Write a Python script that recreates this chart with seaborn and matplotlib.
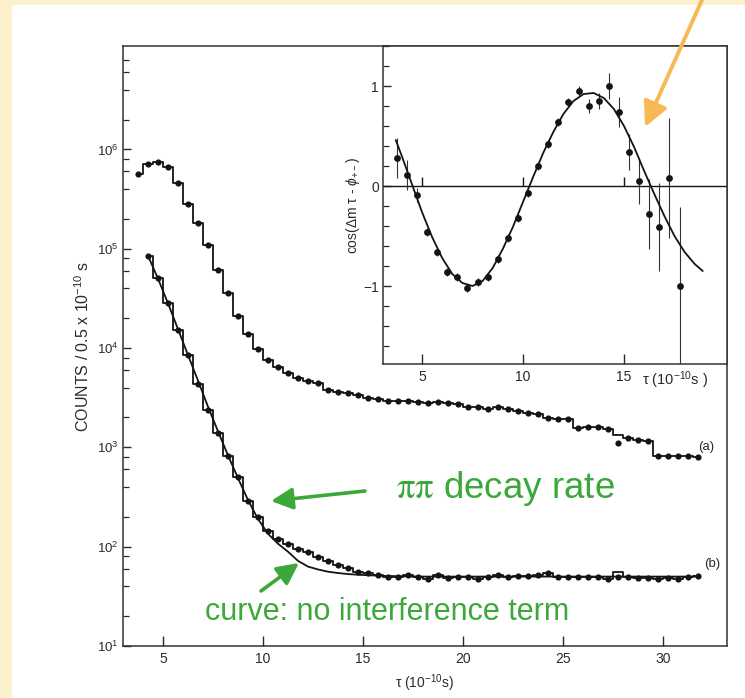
import numpy as np
import matplotlib
matplotlib.use('Agg')
import matplotlib.pyplot as plt
from matplotlib.ticker import FixedLocator, LogLocator, MultipleLocator, NullFormatter
from matplotlib.patches import Rectangle
import seaborn as sns

# bin centres of the 0.5e-10 s bins
tau_a = np.arange(3.75, 32.0, 0.5)
tau_b = np.arange(4.25, 32.0, 0.5)

# (a) counts per bin
counts_a = [570000, 720000, 740000, 670000, 460000, 280000, 180000, 110000, 61000, 36000,
            21000, 14000, 9800, 7600, 6500, 5600, 5000, 4700, 4400, 3780,
            3590, 3510, 3370, 3170, 3050, 2950, 2950, 2930, 2860, 2780,
            2880, 2780, 2740, 2570, 2540, 2420, 2540, 2420, 2310, 2240,
            2150, 1960, 1920, 1920, 1580, 1620, 1590, 1530, 1330, 1240,
            1190, 1170, 820, 820, 820, 820, 795]
# one (a) point sits below its histogram bin
a_outlier_tau = [27.75]
a_outlier_count = [1110]

# (b) counts per bin
counts_b = [85000, 50500, 28200, 15200, 8500, 4370, 2400, 1380, 813, 500,
            288, 200, 145, 120, 107, 95, 89, 79, 71, 65,
            61, 56, 54, 52, 49, 49, 52, 50, 47, 52,
            48, 50, 50, 47, 50, 52, 50, 51, 51, 52,
            54, 50, 50, 50, 50, 49, 47, 50, 49, 48,
            48, 47, 48, 47, 49, 51]
# one (b) histogram bin drawn above its point
b_bump_tau = [27.75]
b_bump_count = [55]

# curve without interference term
curve_tau = [4.25, 4.75, 5.25, 5.75, 6.25, 6.75, 7.25, 7.75, 8.25, 8.75, 9.25, 9.75,
             10.25, 10.75, 11.25, 11.75, 12.25, 12.75, 13.25, 13.75, 14.25, 14.75,
             15.25, 16.0, 18.0, 22.0, 26.0, 31.75]
curve_counts = [85000, 50000, 28200, 15500, 8500, 4700, 2570, 1450, 830, 490, 295, 190,
                135, 107, 89, 72, 63, 59, 56, 54.3, 53, 52.2,
                51.6, 50.8, 50, 50, 50, 50]

# inset: interference term
inset_tau = np.arange(3.75, 18.0, 0.5)
inset_cos = [0.28, 0.11, -0.09, -0.46, -0.66, -0.86, -0.91, -1.02, -0.96, -0.91,
             -0.73, -0.52, -0.32, -0.07, 0.20, 0.42, 0.64, 0.84, 0.95, 0.80,
             0.85, 1.00, 0.74, 0.34, 0.05, -0.28, -0.41, 0.08, -1.00]
inset_err = [0.20, 0.15, 0.07, 0.04, 0.04, 0.04, 0.04, 0.04, 0.04, 0.04,
             0.04, 0.04, 0.04, 0.04, 0.04, 0.04, 0.04, 0.04, 0.05, 0.07,
             0.08, 0.13, 0.15, 0.18, 0.23, 0.35, 0.44, 0.60, 0.79]
fit_tau = [3.7, 4.0, 4.5, 5.0, 5.5, 6.0, 6.5, 7.0, 7.5, 8.0, 8.5, 9.0, 9.5, 10.0, 10.5, 11.0,
           11.5, 12.0, 12.5, 13.0, 13.5, 14.0, 14.5, 15.0, 15.5, 16.0, 16.5, 17.0, 17.5,
           18.0, 18.5, 18.9]
fit_cos = [0.46, 0.30, 0.02, -0.26, -0.51, -0.72, -0.88, -0.97, -1.00, -0.95, -0.82, -0.63,
           -0.41, -0.16, 0.09, 0.33, 0.54, 0.72, 0.85, 0.92, 0.93, 0.88, 0.77, 0.60, 0.39,
           0.15, -0.08, -0.30, -0.50, -0.66, -0.78, -0.85]

main_xticks = [5, 10, 15, 20, 25, 30]
main_yticks = [1e1, 1e2, 1e3, 1e4, 1e5, 1e6]
inset_xticks = [5, 10, 15]
inset_yticks = [-1, 0, 1]

sns.set_style('ticks')
plt.rcParams['font.family'] = ['Liberation Sans', 'DejaVu Sans']
plt.rcParams['mathtext.fontset'] = 'custom'
plt.rcParams['mathtext.rm'] = 'Liberation Sans'
plt.rcParams['mathtext.it'] = 'Liberation Sans:italic'

ink = '#141414'
tick_col = '#2a2a2a'
green = '#3ca83a'
orange = '#f6b955'
W, H = 745, 698

fig = plt.figure(figsize=(W / 100, H / 100), dpi=100, facecolor='#fdf0cc')
fig.add_artist(Rectangle((12 / W, 0), 1, 1 - 5 / H, transform=fig.transFigure,
                         facecolor='white', edgecolor='none', zorder=-5))

# ---- main panel ----
ax = fig.add_axes([123 / W, 1 - 646 / H, 604 / W, 600 / H])
ax.set_yscale('log')

hist_a = list(counts_a)
hist_b = list(counts_b)
for t, c in zip(b_bump_tau, b_bump_count):
    hist_b[list(tau_b).index(t)] = c

sns.lineplot(x=tau_a, y=hist_a, drawstyle='steps-mid', color=ink, lw=1.3, ax=ax)
sns.lineplot(x=tau_b, y=hist_b, drawstyle='steps-mid', color=ink, lw=1.3, ax=ax)
sns.lineplot(x=curve_tau, y=curve_counts, color=ink, lw=1.3, ax=ax)
keep_a = [i for i, t in enumerate(tau_a) if t not in a_outlier_tau]
sns.scatterplot(x=tau_a[keep_a], y=np.array(counts_a)[keep_a], color=ink, s=20, linewidth=0, ax=ax)
sns.scatterplot(x=a_outlier_tau, y=a_outlier_count, color=ink, s=20, linewidth=0, ax=ax)
sns.scatterplot(x=tau_b, y=counts_b, color=ink, s=20, linewidth=0, ax=ax)

ax.set_xlim(3.0, 33.2)
ax.set_ylim(10, 1.1e7)
ax.xaxis.set_major_locator(FixedLocator(main_xticks))
ax.yaxis.set_major_locator(FixedLocator(main_yticks))
ax.yaxis.set_minor_locator(LogLocator(base=10, subs=[2, 4, 6, 8], numticks=20))
ax.yaxis.set_minor_formatter(NullFormatter())
ax.tick_params(axis='x', direction='in', length=7, width=1, pad=4, labelsize=10,
               colors=tick_col)
ax.tick_params(axis='y', which='major', direction='in', length=6, width=1, pad=3,
               labelsize=9.5, colors=tick_col)
ax.tick_params(axis='y', which='minor', direction='in', length=4, width=0.9, colors=tick_col)
for s in ax.spines.values():
    s.set_linewidth(1.1)
    s.set_color('#333333')
ax.set_xlabel('τ (10$^{-10}$s)', fontsize=10, labelpad=5, color=tick_col)
ax.set_ylabel('COUNTS / 0.5 x 10$^{-10}$ s', fontsize=11.5, labelpad=4, color=tick_col)
ax.text(32.15, 1020, '(a)', fontsize=9.5, ha='center', va='center', color=tick_col)
ax.text(32.45, 67, '(b)', fontsize=9.5, ha='center', va='center', color=tick_col)

# ---- inset ----
axi = fig.add_axes([383 / W, 1 - 364 / H, 344 / W, 318 / H])
axi.set_facecolor('white')
axi.axhline(0, color=ink, lw=1.0)
axi.vlines(inset_xticks, 0, 0.09, color=ink, lw=1.0)
axi.errorbar(inset_tau, inset_cos, yerr=inset_err, fmt='none', ecolor='#333333',
             elinewidth=0.8, capsize=0)
sns.lineplot(x=fit_tau, y=fit_cos, color=ink, lw=1.3, ax=axi)
sns.scatterplot(x=inset_tau, y=inset_cos, color=ink, s=24, linewidth=0, ax=axi, zorder=5)
axi.set_xlim(3.07, 20.1)
axi.set_ylim(-1.78, 1.4)
axi.xaxis.set_major_locator(FixedLocator(inset_xticks))
axi.yaxis.set_major_locator(FixedLocator(inset_yticks))
axi.yaxis.set_minor_locator(MultipleLocator(0.2))
axi.tick_params(axis='x', direction='in', length=7, width=1, pad=4, labelsize=10,
                colors=tick_col)
axi.tick_params(axis='y', which='major', direction='in', length=6, width=1, pad=3,
                labelsize=10, colors=tick_col)
axi.tick_params(axis='y', which='minor', direction='in', length=4, width=0.9, colors=tick_col)
for s in axi.spines.values():
    s.set_linewidth(1.1)
    s.set_color('#333333')
axi.set_ylabel(r'cos($\Delta$m τ - $\phi_{+-}$)', fontsize=10, labelpad=1, color=tick_col)
axi.text(0.753, -0.05, 'τ (10$^{-10}$s )', transform=axi.transAxes, fontsize=10.5,
         ha='left', va='center', color=tick_col)

# ---- annotations (figure pixels, origin bottom-left), drawn on top of the inset ----
def fig_arrow(tail, tip, color, lw, hw=6.5, hl=13):
    axi.annotate('', xy=(tip[0], H - tip[1]), xytext=(tail[0], H - tail[1]),
                 xycoords='figure pixels', textcoords='figure pixels',
                 arrowprops=dict(arrowstyle=f'-|>,head_width={hw},head_length={hl}',
                                 mutation_scale=1, color=color, lw=lw,
                                 shrinkA=0, shrinkB=0),
                 annotation_clip=False, zorder=10)

fig_arrow((365, 491), (271, 501), green, 2.6)
fig_arrow((261, 591), (299, 563), green, 2.6)
fig_arrow((702, 0), (645, 127), orange, 2.8, hw=7.5, hl=15)

fig.text(505 / W, 1 - 498 / H, r'$\mathrm{\pi\pi}$ decay rate', fontsize=26.5, color=green,
         ha='center', va='baseline', math_fontfamily='stix')
fig.text(387 / W, 1 - 620 / H, 'curve: no interference term', fontsize=22, color=green,
         ha='center', va='baseline')

fig.savefig('out.png', dpi=100, facecolor=fig.get_facecolor())
